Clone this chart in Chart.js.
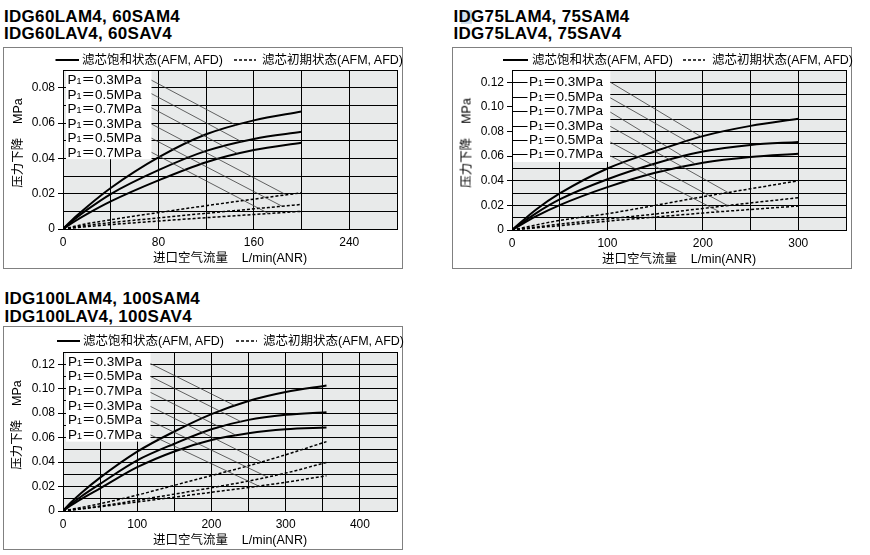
<!DOCTYPE html>
<html>
<head>
<meta charset="utf-8">
<script src="https://cdn.jsdelivr.net/npm/chart.js@4.4.1/dist/chart.umd.min.js"></script>
<style>
  body { margin: 0; background: #fff; }
  #page { position: relative; width: 870px; height: 555px; overflow: hidden;
          font-family: "Liberation Sans", "Noto Sans CJK SC", sans-serif; color: #000; }
  #page canvas { position: absolute; }
  .t { position: absolute; white-space: pre; transform: translateY(-50%); }
  .title { font-weight: bold; font-size: 17px; line-height: 17px; letter-spacing: 0.3px; }
  .leg { font-size: 12.5px; line-height: 13px; }
  .xt { font-size: 12.5px; line-height: 13px; transform: translate(-50%, -50%); }
  .yt { font-size: 12.5px; line-height: 13px; transform: translate(-50%, -50%) rotate(-90deg); }
  .pl { font-size: 13.5px; line-height: 14px; }
  .pl .s { font-size: 9px; line-height: 0; }
  .hl { position: absolute; background: #cfe0ee; }
</style>
</head>
<body>
<div id="page"></div>
<script>
// ---------------- DATA ----------------
const PRESSURES = ['0.3', '0.5', '0.7', '0.3', '0.5', '0.7'];
const LEGEND_TEXT = ['滤芯饱和状态(AFM, AFD)', '滤芯初期状态(AFM, AFD)'];
const X_TITLE = '进口空气流量    L/min(ANR)';
const Y_TITLE = '压力下降    MPa';

// Chart 1: IDG60
const C1_TITLES = ['IDG60LAM4, 60SAM4', 'IDG60LAV4, 60SAV4'];
const C1_X_SAT = [0, 10, 20, 40, 80, 120, 160, 200];
const C1_SAT_03 = [0, 0.0066, 0.0125, 0.0232, 0.0405, 0.0536, 0.0615, 0.0665];
const C1_SAT_05 = [0, 0.0057, 0.0108, 0.0198, 0.0333, 0.0442, 0.0510, 0.0550];
const C1_SAT_07 = [0, 0.0044, 0.0084, 0.0156, 0.0275, 0.0378, 0.0447, 0.0488];
const C1_X_INI = [0, 20, 40, 80, 120, 160, 200];
const C1_INI_03 = [0, 0.0030, 0.0052, 0.0093, 0.0132, 0.0169, 0.0205];
const C1_INI_05 = [0, 0.0020, 0.0036, 0.0063, 0.0089, 0.0114, 0.0139];
const C1_INI_07 = [0, 0.0013, 0.0025, 0.0045, 0.0064, 0.0082, 0.0100];
const C1_X_TICKS = [0, 40, 80, 120, 160, 200, 240, 280];
const C1_X_LABELS = [0, 80, 160, 240];
const C1_Y_TICKS = [0, 0.01, 0.02, 0.03, 0.04, 0.05, 0.06, 0.07, 0.08, 0.09];
const C1_Y_LABELS = [0, 0.02, 0.04, 0.06, 0.08];
const C1_BOX = [74.2, 0.0395];
const C1_LEAD_X0 = 74.2;
const C1_LEAD_Y0 = [0.0842, 0.0766, 0.0686, 0.0594, 0.0514, 0.0434];
const C1_LEAD_X1 = [145, 150, 146, 186.4, 183.6, 172.5];
const C1_LEAD_Y1 = [0.0588, 0.0493, 0.0428, 0.0196, 0.0129, 0.0087];

// Chart 2: IDG75
const C2_TITLES = ['IDG75LAM4, 75SAM4', 'IDG75LAV4, 75SAV4'];
const C2_X_SAT = [0, 25, 50, 100, 150, 200, 250, 300];
const C2_SAT_03 = [0, 0.0165, 0.0297, 0.0500, 0.0640, 0.0763, 0.0846, 0.0904];
const C2_SAT_05 = [0, 0.0135, 0.0248, 0.0412, 0.0540, 0.0637, 0.0691, 0.0715];
const C2_SAT_07 = [0, 0.0110, 0.0202, 0.0348, 0.0465, 0.0547, 0.0594, 0.0620];
const C2_X_INI = [0, 50, 100, 150, 200, 250, 300];
const C2_INI_03 = [0, 0.0078, 0.0132, 0.0200, 0.0270, 0.0335, 0.0400];
const C2_INI_05 = [0, 0.0048, 0.0090, 0.0130, 0.0175, 0.0220, 0.0262];
const C2_INI_07 = [0, 0.0035, 0.0072, 0.0105, 0.0138, 0.0167, 0.0195];
const C2_X_TICKS = [0, 50, 100, 150, 200, 250, 300, 350];
const C2_X_LABELS = [0, 100, 200, 300];
const C2_Y_TICKS = [0, 0.01, 0.02, 0.03, 0.04, 0.05, 0.06, 0.07, 0.08, 0.09, 0.10, 0.11, 0.12, 0.13];
const C2_Y_LABELS = [0, 0.02, 0.04, 0.06, 0.08, 0.10, 0.12];
const C2_BOX = [103, 0.0553];
const C2_LEAD_X0 = 103;
const C2_LEAD_Y0 = [0.1201, 0.1074, 0.0958, 0.0842, 0.0715, 0.0602];
const C2_LEAD_X1 = [197.6, 199.7, 192.5, 227, 225.5, 217];
const C2_LEAD_Y1 = [0.0761, 0.0648, 0.0534, 0.0302, 0.0200, 0.0150];

// Chart 3: IDG100
const C3_TITLES = ['IDG100LAM4, 100SAM4', 'IDG100LAV4, 100SAV4'];
const C3_X_SAT = [0, 10, 25, 50, 100, 150, 200, 250, 300, 355];
const C3_SAT_03 = [0, 0.0066, 0.0150, 0.0273, 0.0485, 0.0650, 0.0792, 0.0900, 0.0973, 0.1027];
const C3_SAT_05 = [0, 0.0053, 0.0121, 0.0222, 0.0414, 0.0550, 0.0668, 0.0745, 0.0786, 0.0808];
const C3_SAT_07 = [0, 0.0044, 0.0100, 0.0185, 0.0358, 0.0487, 0.0580, 0.0636, 0.0668, 0.0682];
const C3_X_INI = [0, 50, 100, 150, 200, 250, 300, 355];
const C3_INI_03 = [0, 0.0060, 0.0130, 0.0210, 0.0290, 0.0370, 0.0460, 0.0567];
const C3_INI_05 = [0, 0.0040, 0.0088, 0.0138, 0.0190, 0.0245, 0.0310, 0.0397];
const C3_INI_07 = [0, 0.0035, 0.0074, 0.0113, 0.0153, 0.0192, 0.0235, 0.0288];
const C3_X_TICKS = [0, 50, 100, 150, 200, 250, 300, 350, 400, 450];
const C3_X_LABELS = [0, 100, 200, 300, 400];
const C3_Y_TICKS = [0, 0.01, 0.02, 0.03, 0.04, 0.05, 0.06, 0.07, 0.08, 0.09, 0.10, 0.11, 0.12, 0.13];
const C3_Y_LABELS = [0, 0.02, 0.04, 0.06, 0.08, 0.10, 0.12];
const C3_BOX = [117.9, 0.0567];
const C3_LEAD_X0 = 117.9;
const C3_LEAD_Y0 = [0.1205, 0.1100, 0.0970, 0.0855, 0.0737, 0.0622];
const C3_LEAD_X1 = [231, 240, 233, 266.7, 275.6, 264];
const C3_LEAD_Y1 = [0.0863, 0.0730, 0.0620, 0.0403, 0.0277, 0.0203];

// ---------------- LAYOUT (styling only) ----------------
const LAYOUT = [
  { left: 3, top: 47, w: 400, h: 222, padTop: 23, padRight: 3, yW: 60, xH: 40, inset: 3, stub: false, labelDx: 4.5,
    rowY0: 80, rowStep: 14.5,
    titleX: 4, titleY: [15.8, 33.2], legY: 13, legSolid: [52.5, 76], legDot: [231, 253], legText: [79, 259], yTitleX: 14.5 },
  { left: 452, top: 47, w: 400, h: 222, padTop: 23, padRight: 2, yW: 60, xH: 39, inset: 1, stub: true, labelDx: 17,
    rowY0: 82.3, rowStep: 14.4,
    titleX: 453.5, titleY: [15.8, 33.2], legY: 13, legSolid: [51, 76], legDot: [231, 253], legText: [80, 260], yTitleX: 15 },
  { left: 3, top: 326, w: 400, h: 224, padTop: 26, padRight: 2, yW: 60, xH: 39, inset: 3, stub: false, labelDx: 5,
    rowY0: 361.5, rowStep: 14.7,
    titleX: 4.5, titleY: [297.8, 315.5], legY: 15, legSolid: [54, 77], legDot: [233, 254], legText: [80, 260], yTitleX: 14.3 }
];

const CHARTS = [
  { titles: C1_TITLES, xSat: C1_X_SAT, sat: [C1_SAT_03, C1_SAT_05, C1_SAT_07], xIni: C1_X_INI, ini: [C1_INI_03, C1_INI_05, C1_INI_07],
    xTicks: C1_X_TICKS, xLabels: C1_X_LABELS, yTicks: C1_Y_TICKS, yLabels: C1_Y_LABELS, box: C1_BOX,
    leadX0: C1_LEAD_X0, leadY0: C1_LEAD_Y0, leadX1: C1_LEAD_X1, leadY1: C1_LEAD_Y1 },
  { titles: C2_TITLES, xSat: C2_X_SAT, sat: [C2_SAT_03, C2_SAT_05, C2_SAT_07], xIni: C2_X_INI, ini: [C2_INI_03, C2_INI_05, C2_INI_07],
    xTicks: C2_X_TICKS, xLabels: C2_X_LABELS, yTicks: C2_Y_TICKS, yLabels: C2_Y_LABELS, box: C2_BOX,
    leadX0: C2_LEAD_X0, leadY0: C2_LEAD_Y0, leadX1: C2_LEAD_X1, leadY1: C2_LEAD_Y1 },
  { titles: C3_TITLES, xSat: C3_X_SAT, sat: [C3_SAT_03, C3_SAT_05, C3_SAT_07], xIni: C3_X_INI, ini: [C3_INI_03, C3_INI_05, C3_INI_07],
    xTicks: C3_X_TICKS, xLabels: C3_X_LABELS, yTicks: C3_Y_TICKS, yLabels: C3_Y_LABELS, box: C3_BOX,
    leadX0: C3_LEAD_X0, leadY0: C3_LEAD_Y0, leadX1: C3_LEAD_X1, leadY1: C3_LEAD_Y1 }
];

// ---------------- BUILD ----------------
const page = document.getElementById('page');
const TICK_FONT = { family: "'Liberation Sans', sans-serif", size: 12 };

function addText(cls, txt, x, y, html) {
  const d = document.createElement('div');
  d.className = 't ' + cls;
  if (html) d.innerHTML = txt; else d.textContent = txt;
  d.style.left = x + 'px';
  d.style.top = y + 'px';
  page.appendChild(d);
  return d;
}
const has = (arr, v) => arr.some(a => Math.abs(a - v) < 1e-9);

// highlight artifact behind the "D" of the second title
const hl = document.createElement('div');
hl.className = 'hl';
Object.assign(hl.style, { left: '461px', top: '10px', width: '11px', height: '14px' });
page.appendChild(hl);

CHARTS.forEach((D, i) => {
  const L = LAYOUT[i];
  const cv = document.createElement('canvas');
  cv.width = L.w; cv.height = L.h;
  Object.assign(cv.style, { left: L.left + 'px', top: L.top + 'px', width: L.w + 'px', height: L.h + 'px' });
  page.appendChild(cv);

  const datasets = [];
  D.leadY0.forEach((y0, k) => datasets.push({
    data: [{ x: D.leadX0, y: y0 }, { x: D.leadX1[k], y: D.leadY1[k] }],
    borderColor: '#3c3c3c', borderWidth: 0.8, pointRadius: 0, tension: 0
  }));
  D.sat.forEach(s => datasets.push({
    data: D.xSat.map((x, k) => ({ x, y: s[k] })),
    borderColor: '#000', borderWidth: 2, pointRadius: 0, cubicInterpolationMode: 'monotone'
  }));
  D.ini.forEach(s => datasets.push({
    data: D.xIni.map((x, k) => ({ x, y: s[k] })),
    borderColor: '#000', borderWidth: 1.5, borderDash: [3, 2], pointRadius: 0, cubicInterpolationMode: 'monotone'
  }));

  const deco = {
    id: 'deco' + i,
    beforeDraw(chart) {
      const { ctx, chartArea: a } = chart;
      ctx.save();
      ctx.fillStyle = '#fff';
      ctx.fillRect(0, 0, chart.width, chart.height);
      ctx.strokeStyle = '#808080'; ctx.lineWidth = 1;
      ctx.strokeRect(0.5, 0.5, chart.width - 1, chart.height - 1);
      ctx.fillStyle = '#e8eaea';
      ctx.fillRect(a.left, a.top, a.right - a.left, a.bottom - a.top);
      // legend samples
      ctx.strokeStyle = '#000';
      ctx.lineWidth = 2;
      ctx.beginPath(); ctx.moveTo(L.legSolid[0], L.legY); ctx.lineTo(L.legSolid[1], L.legY); ctx.stroke();
      ctx.lineWidth = 1.5; ctx.setLineDash([3, 2]);
      ctx.beginPath(); ctx.moveTo(L.legDot[0], L.legY); ctx.lineTo(L.legDot[1], L.legY); ctx.stroke();
      ctx.restore();
    },
    beforeDatasetsDraw(chart) {
      const { ctx, chartArea: a, scales: { x, y } } = chart;
      const r = x.getPixelForValue(D.box[0]);
      const b = y.getPixelForValue(D.box[1]);
      ctx.save();
      ctx.fillStyle = '#fff';
      ctx.fillRect(a.left + L.inset, a.top + 1, r - a.left - L.inset, b - a.top - 1);
      if (L.stub) {
        ctx.strokeStyle = '#000'; ctx.lineWidth = 1;
        PRESSURES.forEach((p, k) => {
          const py = Math.round(L.rowY0 + k * L.rowStep - L.top) + 0.5;
          ctx.beginPath(); ctx.moveTo(a.left, py); ctx.lineTo(a.left + L.labelDx - 1.5, py); ctx.stroke();
        });
      }
      ctx.restore();
    }
  };

  const ch = new Chart(cv, {
    type: 'line',
    data: { datasets },
    options: {
      responsive: false, animation: false,
      layout: { padding: { top: L.padTop, right: L.padRight, left: 0, bottom: 0 } },
      plugins: { legend: { display: false }, tooltip: { enabled: false } },
      scales: {
        x: {
          type: 'linear', min: D.xTicks[0], max: D.xTicks[D.xTicks.length - 1],
          afterBuildTicks: s => { s.ticks = D.xTicks.map(v => ({ value: v })); },
          afterFit: s => { s.height = L.xH; },
          grid: { color: '#000', lineWidth: 1, drawTicks: false },
          border: { color: '#000', width: 1 },
          ticks: { color: '#000', font: TICK_FONT, padding: 6, maxRotation: 0, autoSkip: false,
                   callback: v => has(D.xLabels, v) ? String(v) : '' }
        },
        y: {
          type: 'linear', min: D.yTicks[0], max: D.yTicks[D.yTicks.length - 1],
          afterBuildTicks: s => { s.ticks = D.yTicks.map(v => ({ value: v })); },
          afterFit: s => { s.width = L.yW; },
          grid: { color: '#000', lineWidth: 1, drawTicks: true, tickLength: 5,
                  tickColor: c => (c.tick && has(D.yLabels, c.tick.value)) ? '#000' : 'rgba(0,0,0,0)' },
          border: { color: '#000', width: 1 },
          ticks: { color: '#000', font: TICK_FONT, padding: 3, autoSkip: false,
                   callback: v => has(D.yLabels, v) ? (Math.abs(v) < 1e-9 ? '0' : v.toFixed(2)) : '' }
        }
      }
    },
    plugins: [deco]
  });

  // ---- text ----
  const a = ch.chartArea;
  addText('title', D.titles[0], L.titleX, L.titleY[0]);
  addText('title', D.titles[1], L.titleX, L.titleY[1]);
  addText('leg', LEGEND_TEXT[0], L.left + L.legText[0], L.top + L.legY);
  addText('leg', LEGEND_TEXT[1], L.left + L.legText[1], L.top + L.legY);
  addText('xt', X_TITLE, L.left + (a.left + a.right) / 2, L.top + a.bottom + 29);
  addText('yt', Y_TITLE, L.left + L.yTitleX, L.top + (a.top + a.bottom) / 2 - 7);
  PRESSURES.forEach((p, k) => {
    addText('pl', 'P<span class="s">1</span>＝' + p + 'MPa', L.left + a.left + L.labelDx, L.rowY0 + k * L.rowStep, true);
  });
});
</script>
</body>
</html>
